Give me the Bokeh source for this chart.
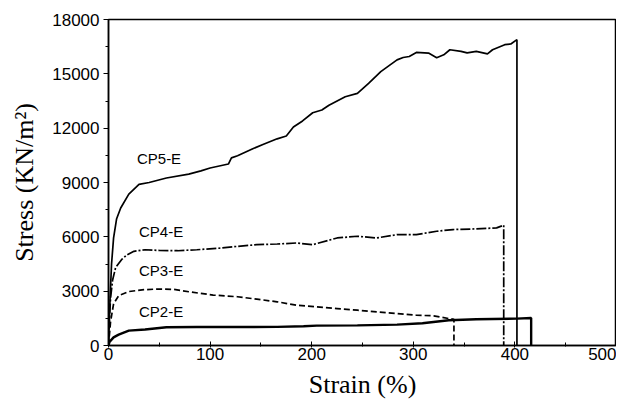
from bokeh.plotting import figure
from bokeh.models import Label, Range1d, FixedTicker
from bokeh.embed import file_html
from bokeh.resources import INLINE

# CP5-E (solid)
cp5_strain = [0, 1, 2, 3, 5, 8, 12, 20, 30, 40, 57, 79, 91, 100, 118, 121, 127, 142, 152, 166,
              175, 182, 191, 201, 210, 217, 233, 245, 256, 268, 284, 290, 296, 303, 315, 323,
              330, 336, 347, 353, 362, 373, 378, 390, 396, 402, 402]
cp5_stress = [0, 1800, 3200, 4500, 5940, 7000, 7590, 8360, 8900, 9000, 9250, 9464, 9640, 9800,
              10020, 10360, 10480, 10860, 11100, 11412, 11570, 12062, 12400, 12850, 13000, 13268,
              13732, 13918, 14474, 15124, 15773, 15900, 15959, 16181, 16144, 15890, 16050, 16330,
              16237, 16160, 16237, 16100, 16330, 16608, 16650, 16886, 0]

# CP4-E (dash-dot)
cp4_strain = [0, 1, 2, 4, 7, 13, 18, 25, 36, 50, 68, 87, 111, 127, 146, 166, 185, 201, 225,
              245, 264, 284, 303, 323, 339, 362, 382, 389, 389]
cp4_stress = [0, 1500, 2600, 3600, 4300, 4750, 5000, 5200, 5288, 5250, 5233, 5288, 5381, 5474,
              5567, 5604, 5660, 5567, 5938, 6031, 5938, 6124, 6124, 6309, 6402, 6439, 6495, 6643, 0]

# CP3-E (dashed)
cp3_strain = [0, 2, 5, 10, 20, 35, 48, 64, 79, 103, 127, 146, 166, 185, 205, 225, 245,
              264, 284, 303, 320, 335, 340, 340]
cp3_stress = [0, 1300, 2300, 2750, 2980, 3080, 3118, 3100, 2969, 2784, 2691, 2560, 2412,
              2227, 2134, 2041, 1948, 1856, 1763, 1670, 1640, 1485, 1450, 0]

# CP2-E (solid, noisy)
cp2_strain = [0, 1, 5, 10, 20, 36, 57, 87, 127, 166, 192, 205, 245, 284, 309, 335, 362, 402,
              416, 416]
cp2_stress = [0, 200, 450, 600, 820, 880, 1010, 1021, 1021, 1030, 1060, 1100, 1113, 1150, 1230,
              1392, 1447, 1485, 1521, 0]

labels = ["CP5-E", "CP4-E", "CP3-E", "CP2-E"]
label_x = [28, 30, 30, 30]
label_y = [10300, 6320, 4160, 1900]

x_ticks = [0, 100, 200, 300, 400, 500]
y_ticks = [0, 3000, 6000, 9000, 12000, 15000, 18000]

p = figure(width=616, height=401, output_backend="svg", toolbar_location=None,
           x_range=Range1d(0, 500), y_range=Range1d(0, 18000),
           min_border_left=108, min_border_right=0, min_border_top=19, min_border_bottom=50)
p.background_fill_color = "white"
p.border_fill_color = "white"
p.outline_line_color = "black"
p.outline_line_width = 1.5
p.xgrid.visible = False
p.ygrid.visible = False

p.line(cp5_strain, cp5_stress, line_color="black", line_width=1.7)
p.line(cp4_strain, cp4_stress, line_color="black", line_width=1.7, line_dash="10 2 2 2")
p.line(cp3_strain, cp3_stress, line_color="black", line_width=1.7, line_dash="6 3")
p.line(cp2_strain, cp2_stress, line_color="black", line_width=2.4)

for t, lx, ly in zip(labels, label_x, label_y):
    p.add_layout(Label(x=lx, y=ly, text=t, text_font="Liberation Sans", text_font_size="15px",
                       text_baseline="middle", text_align="left", text_color="black"))

xa = p.xaxis[0]
xa.ticker = FixedTicker(ticks=x_ticks, minor_ticks=list(range(0, 501, 50)))
xa.axis_label = "Strain (%)"
xa.axis_label_text_font = "Liberation Serif"
xa.axis_label_text_font_size = "26px"
xa.axis_label_text_font_style = "normal"
xa.axis_label_text_color = "black"
xa.axis_label_standoff = 7
xa.major_label_text_font = "Liberation Sans"
xa.major_label_text_font_size = "17px"
xa.major_label_text_color = "black"
xa.major_label_standoff = 0
xa.major_tick_in = 4
xa.major_tick_out = 2
xa.minor_tick_in = 3
xa.minor_tick_out = 1
xa.axis_line_width = 1.5
xa.axis_line_color = "black"
xa.major_tick_line_color = "black"
xa.minor_tick_line_color = "black"

ya = p.yaxis[0]
ya.ticker = FixedTicker(ticks=y_ticks, minor_ticks=list(range(0, 18001, 1500)))
ya.axis_label = "Stress (KN/m²)"
ya.axis_label_text_font = "Liberation Serif"
ya.axis_label_text_font_size = "26px"
ya.axis_label_text_font_style = "normal"
ya.axis_label_text_color = "black"
ya.axis_label_standoff = 10
ya.major_label_text_font = "Liberation Sans"
ya.major_label_text_font_size = "17px"
ya.major_label_text_color = "black"
ya.major_label_standoff = 4
ya.major_tick_in = 0
ya.major_tick_out = 5
ya.minor_tick_in = 0
ya.minor_tick_out = 3
ya.axis_line_width = 1.5
ya.axis_line_color = "black"
ya.major_tick_line_color = "black"
ya.minor_tick_line_color = "black"

open("out.html", "w").write(file_html(p, INLINE))
